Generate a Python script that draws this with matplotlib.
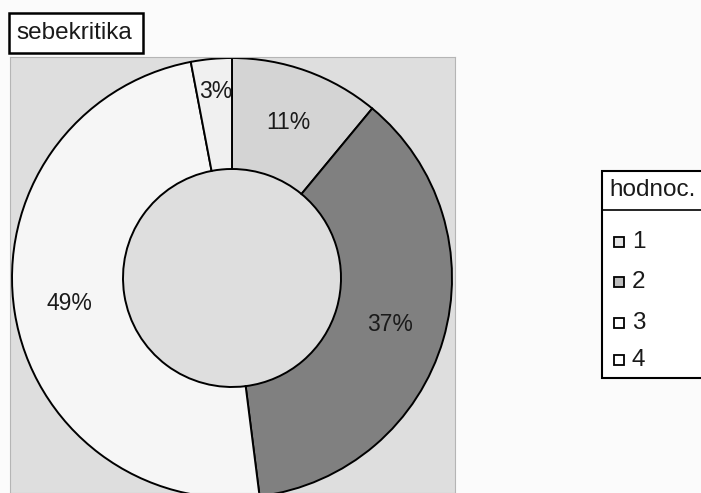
import matplotlib.pyplot as plt
from matplotlib.patches import Rectangle

plt.rcParams['font.family'] = ['Liberation Sans', 'DejaVu Sans']

# data
categories = ['1', '2', '3', '4']
shares = [11, 37, 49, 3]
slice_colors = ['#d4d4d4', '#808080', '#f6f6f6', '#f0f0f0']
marker_colors = ['#e4e4e4', '#bdbdbd', '#ffffff', '#ffffff']
chart_title = 'sebekritika'
legend_title = 'hodnoc.'

W, H = 701, 493
fig = plt.figure(figsize=(W / 100, H / 100), dpi=100)
fig.patch.set_facecolor('#fbfbfb')


def fx(px):
    return px / W


def fy(py):
    return 1 - py / H


# plot area (pixel-like units, y upward)
ax = fig.add_axes([fx(10), 0, fx(455) - fx(10), fy(57)])
ax.set_facecolor('#dedede')
wedges, texts, autotexts = ax.pie(
    shares,
    colors=slice_colors,
    startangle=90,
    counterclock=False,
    center=(232, H - 278),
    radius=220,
    frame=True,
    autopct='%d%%',
    pctdistance=0.75,
    wedgeprops=dict(width=111, edgecolor='black', linewidth=1.4),
    textprops=dict(fontsize=16.5, color='#1a1a1a'),
)
# Excel pushed the small label outwards
x, y = autotexts[3].get_position()
autotexts[3].set_position((x - 1, y + 22))
ax.set_xlim(10, 455)
ax.set_ylim(0, H - 57)
ax.set_xticks([])
ax.set_yticks([])
for s in ax.spines.values():
    s.set_color('#b5b5b5')

# title box
fig.patches.append(Rectangle((fx(9), fy(53)), fx(134), fy(13) - fy(53),
                             transform=fig.transFigure, facecolor='white',
                             edgecolor='black', linewidth=1.8))
fig.text(fx(16), fy(33), chart_title, fontsize=17.5, va='center', ha='left',
         color='#1a1a1a')

# legend box, cut off at the right edge like the original
fig.patches.append(Rectangle((fx(602), fy(378)), fx(120), fy(171) - fy(378),
                             transform=fig.transFigure, facecolor='white',
                             edgecolor='black', linewidth=1.5))
fig.lines.append(plt.Line2D([fx(602), 1.02], [fy(210), fy(210)],
                            transform=fig.transFigure, color='black', lw=1.2))
fig.text(fx(609), fy(190), legend_title, fontsize=17.5, va='center', ha='left',
         color='#1a1a1a')
rows = [242, 282, 323, 360]
for cat, col, ry in zip(categories, marker_colors, rows):
    fig.patches.append(Rectangle((fx(614), fy(ry + 5)), fx(10), fy(ry - 5) - fy(ry + 5),
                                 transform=fig.transFigure, facecolor=col,
                                 edgecolor='black', linewidth=1.3))
    fig.text(fx(632), fy(ry), cat, fontsize=17.5, va='center', ha='left',
             color='#1a1a1a')

fig.savefig('out.png', dpi=100, facecolor=fig.get_facecolor())
